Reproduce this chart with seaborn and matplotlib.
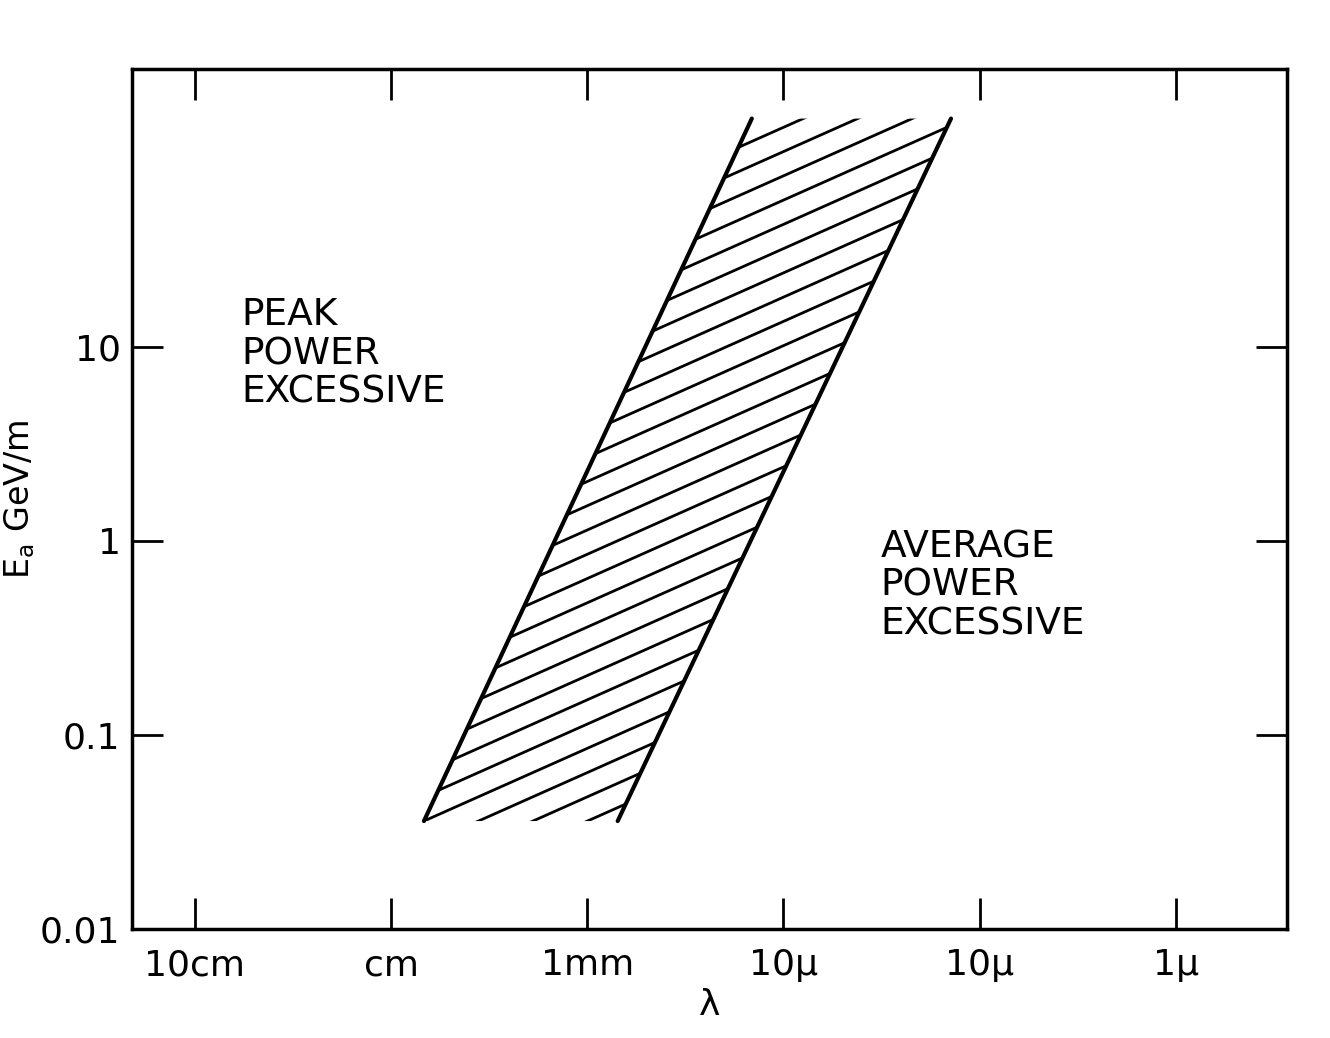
import numpy as np
import matplotlib
matplotlib.use("Agg")
import matplotlib.pyplot as plt
from matplotlib.patches import Polygon
import seaborn as sns

# edges of the hatched band: wavelength (m) vs accelerating field (GeV/m)
band_field = [0.036, 150]
band_lambda_left = [6.8e-3, 1.45e-4]
band_lambda_right = [7.0e-4, 1.4e-5]

x_ticks = [1e-1, 1e-2, 1e-3, 1e-4, 1e-5, 1e-6]
x_labels = ["10cm", "cm", "1mm", "10\u03bc", "10\u03bc", "1\u03bc"]
y_ticks = [0.01, 0.1, 1, 10]
y_labels = ["0.01", "0.1", "1", "10"]

region_text = ["PEAK\nPOWER\nEXCESSIVE", "AVERAGE\nPOWER\nEXCESSIVE"]
region_lambda = [0.058, 3.2e-5]
region_field = [18, 1.15]

sns.set_theme(style="ticks")
plt.rcParams["font.family"] = ["DejaVu Sans"]

fig = plt.figure(figsize=(13.3, 10.38), dpi=100)
ax = fig.add_axes([0.099, 0.105, 0.869, 0.8285])
ax.set_xscale("log")
ax.set_yscale("log")
ax.set_xlim(0.21, 2.7e-7)
ax.set_ylim(0.01, 270)

# band edges
for lam in (band_lambda_left, band_lambda_right):
    sns.lineplot(x=lam, y=band_field, color="black", lw=3, ax=ax,
                 estimator=None, sort=False)

# hatching inside the band, clipped to it
band = Polygon([(band_lambda_left[0], band_field[0]), (band_lambda_left[1], band_field[1]),
                (band_lambda_right[1], band_field[1]), (band_lambda_right[0], band_field[0])],
               closed=True, transform=ax.transData)
ul = -np.log10(band_lambda_left)
ur = -np.log10(band_lambda_right)
v = np.log10(band_field)
slope, step = 0.45, 0.125
c0 = v[0] - slope * ul[0]
c_lo = v[0] - slope * ur[0]
c_hi = v[1] - slope * ul[1]
cs = np.concatenate([np.arange(c0, c_lo - step, -step), np.arange(c0 + step, c_hi + step, step)])
uu = np.array([ul[0] - 0.2, ur[1] + 0.2])
for c in cs:
    ln, = ax.plot(10 ** -uu, 10 ** (c + slope * uu), color="black", lw=2)
    ln.set_clip_path(band)

for txt, lx, ly in zip(region_text, region_lambda, region_field):
    ax.text(lx, ly, txt, ha="left", va="top", fontsize=27, linespacing=1.1,
            color="black")

ax.xaxis.set_minor_locator(matplotlib.ticker.NullLocator())
ax.yaxis.set_minor_locator(matplotlib.ticker.NullLocator())
ax.set_xticks(x_ticks, x_labels)
ax.set_yticks(y_ticks, y_labels)
ax.tick_params(which="major", direction="in", length=22, width=2, color="black",
               top=True, right=True, labelsize=26, labelcolor="black")
ax.tick_params(axis="x", pad=14)
ax.tick_params(axis="y", pad=8)
for sp in ax.spines.values():
    sp.set_linewidth(2.5)
    sp.set_color("black")

ax.set_xlabel("\u03bb", fontsize=26, labelpad=4, color="black")
ax.set_ylabel("E$_\\mathregular{a}$ GeV/m", fontsize=24, labelpad=2, color="black")

fig.savefig("out.png", dpi=100, facecolor="white")
